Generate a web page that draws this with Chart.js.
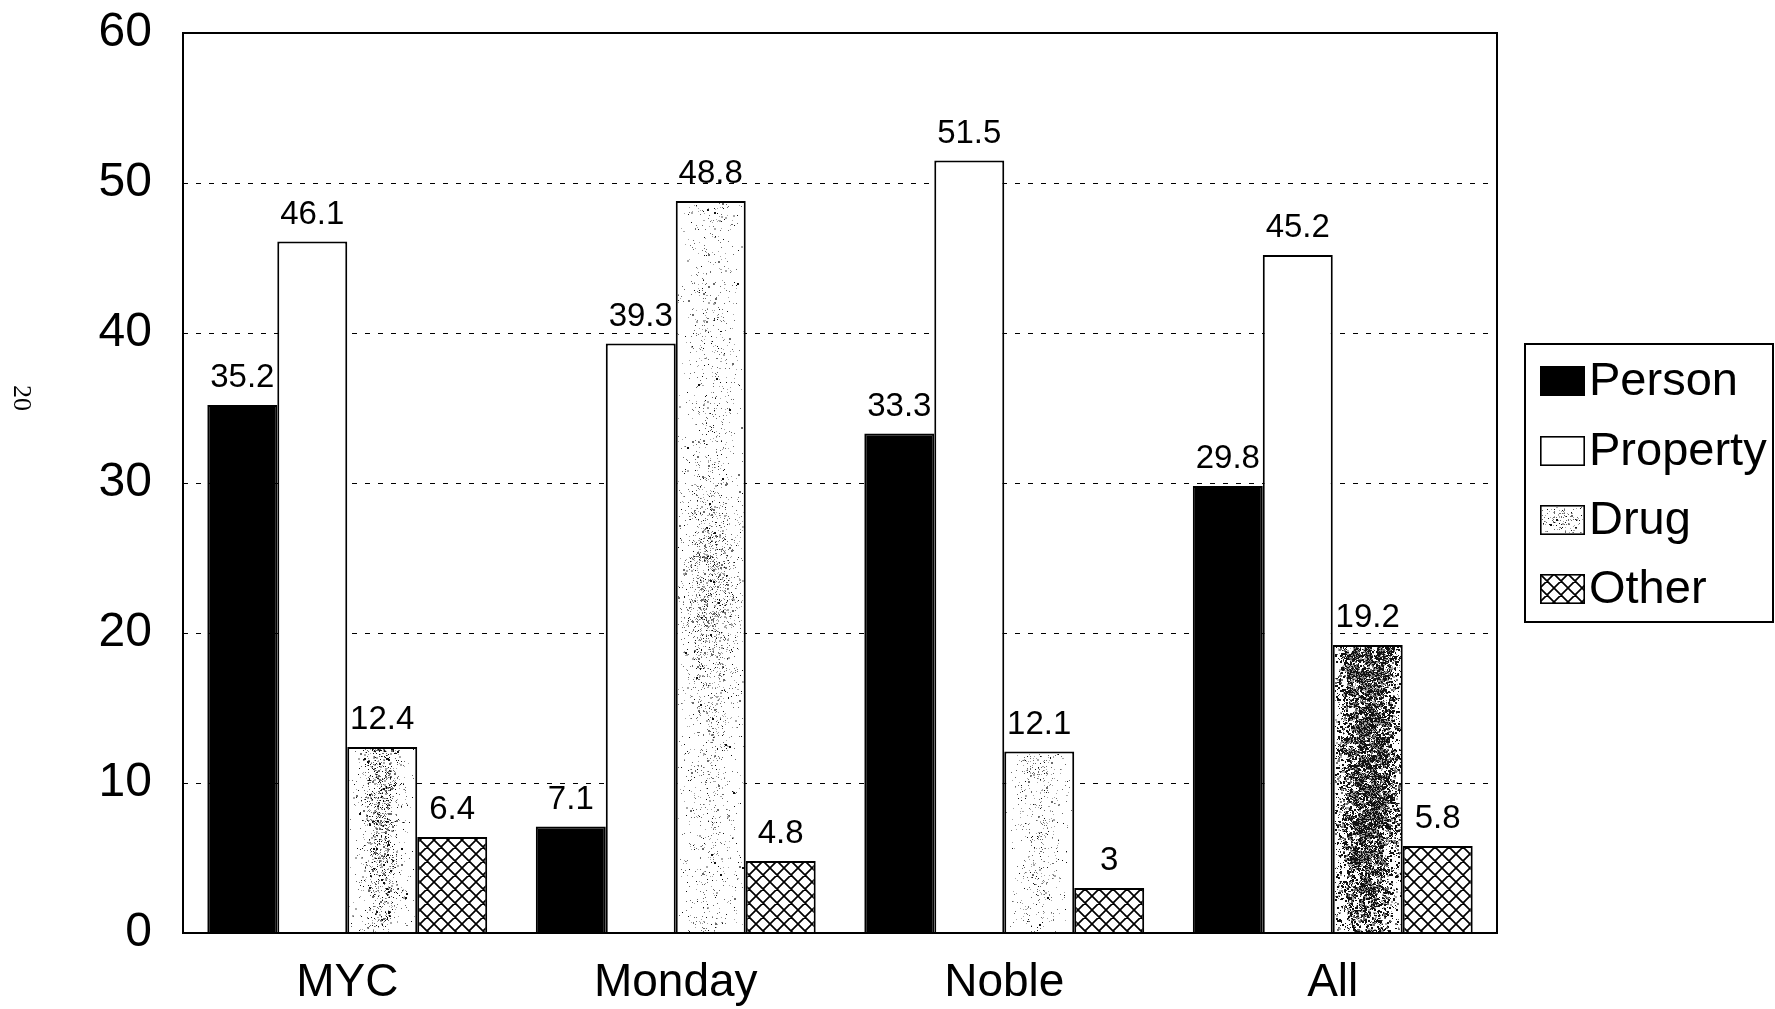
<!DOCTYPE html>
<html>
<head>
<meta charset="utf-8">
<title>Offense type by court</title>
<script src="https://cdn.jsdelivr.net/npm/chart.js@4.4.1/dist/chart.umd.min.js"></script>
<style>
  html, body { margin: 0; padding: 0; background: #fff; }
  canvas { display: block; }
</style>
</head>
<body>
<canvas id="chart" width="1775" height="1009"></canvas>
<script>
// ---- data ----
const categories = ['MYC', 'Monday', 'Noble', 'All'];
const seriesNames = ['Person', 'Property', 'Drug', 'Other'];
const personValues = [35.2, 7.1, 33.3, 29.8];
const propertyValues = [46.1, 39.3, 51.5, 45.2];
const drugValues = [12.4, 48.8, 12.1, 19.2];
const otherValues = [6.4, 4.8, 3, 5.8];
const yTickValues = [0, 10, 20, 30, 40, 50, 60];
const pageNumber = '20';

// ---- styling ----
const FONT = "'Liberation Sans', Arial, Helvetica, sans-serif";
Chart.defaults.font.family = FONT;
Chart.defaults.color = '#000';

const canvas = document.getElementById('chart');
const ctx = canvas.getContext('2d');

// small deterministic generator used for the stipple texture of the Drug bars
function mulberry32(a) {
  return function () {
    a |= 0; a = a + 0x6D2B79F5 | 0;
    let t = Math.imul(a ^ a >>> 15, 1 | a);
    t = t + Math.imul(t ^ t >>> 7, 61 | t) ^ t;
    return ((t ^ t >>> 14) >>> 0) / 4294967296;
  };
}

// cross-hatch fill for "Other"
function makeHatch() {
  const s = 14;
  const c = document.createElement('canvas');
  c.width = s; c.height = s;
  const g = c.getContext('2d');
  g.fillStyle = '#fff';
  g.fillRect(0, 0, s, s);
  g.strokeStyle = '#000';
  g.lineWidth = 1.7;
  g.beginPath();
  for (const k of [-s, 0, s]) {
    g.moveTo(k, 0); g.lineTo(k + s, s);
    g.moveTo(k + s, 0); g.lineTo(k, s);
  }
  g.stroke();
  return ctx.createPattern(c, 'repeat');
}
const hatch = makeHatch();

// stipple look of each Drug bar: strength, horizontal spread, dark share, vertical profile
const drugTexture = [
  { strength: 0.6, sigma: 0.19, seed: 11, big: 0.12, dark: 0.3, profile: f => 1 - 0.5 * f },
  { strength: 0.42, sigma: 0.25, seed: 23, big: 0.06, dark: 0.14, profile: f => 0.25 + 0.85 * Math.exp(-((f - 0.53) * (f - 0.53)) / (2 * 0.09 * 0.09)) + 0.1 * f },
  { strength: 0.26, sigma: 0.22, seed: 37, big: 0.04, dark: 0.12, profile: f => 0.9 - 0.3 * f },
  { strength: 1.9, sigma: 0.25, seed: 53, big: 0.4, dark: 0.62, profile: f => (f < 0.6 ? 1 : 1 - 0.6 * (f - 0.6) / 0.4) }
];

function stipple(g, x0, y0, w, h, tex) {
  const rnd = mulberry32(tex.seed);
  const cell = 6;
  const cols = Math.ceil(w / cell) + 1, rows = Math.ceil(h / cell) + 1;
  const blot = [];
  for (let i = 0; i < cols * rows; i++) blot.push(0.25 + rnd() * 1.5);
  for (let y = 0; y < h; y++) {
    const vf = tex.profile(y / h);
    for (let x = 0; x < w; x++) {
      const fx = (x + 0.5) / w - 0.5;
      const hf = Math.exp(-(fx * fx) / (2 * tex.sigma * tex.sigma));
      const b = blot[Math.floor(y / cell) * cols + Math.floor(x / cell)];
      const p = tex.strength * hf * vf * b * 0.5;
      if (rnd() < p) {
        const t = rnd();
        g.fillStyle = t < tex.dark ? '#111' : (t < tex.dark + (1 - tex.dark) * 0.5 ? '#6a6a6a' : '#a8a8a8');
        const sz = rnd() < tex.big ? 2 : 1;
        g.fillRect(x0 + x, y0 + y, Math.min(sz, w - x), Math.min(sz, h - y));
      }
    }
  }
}

// dashed horizontal guides behind the bars
const guideLines = {
  id: 'guideLines',
  beforeDatasetsDraw(chart) {
    const { ctx: g, chartArea: a } = chart;
    const ys = chart.scales.y;
    g.save();
    g.strokeStyle = '#000';
    g.lineWidth = 1.2;
    g.setLineDash([5, 8]);
    for (const v of yTickValues) {
      if (v === ys.min || v === ys.max) continue;
      const py = Math.round(ys.getPixelForValue(v)) + 0.5;
      g.beginPath();
      g.moveTo(a.left, py);
      g.lineTo(a.right, py);
      g.stroke();
    }
    g.restore();
  }
};

// stipple texture, frame, and value labels on top of the bars
const barDecor = {
  id: 'barDecor',
  afterDatasetsDraw(chart) {
    const g = chart.ctx;
    const a = chart.chartArea;
    // Drug bar texture
    const drugMeta = chart.getDatasetMeta(2);
    drugMeta.data.forEach((el, i) => {
      const left = Math.round(el.x - el.width / 2) + 2;
      const right = Math.round(el.x + el.width / 2) - 2;
      const top = Math.round(el.y) + 2;
      const bottom = Math.round(el.base);
      stipple(g, left, top, right - left, bottom - top, drugTexture[i]);
    });
    // plot frame
    g.save();
    g.strokeStyle = '#000';
    g.lineWidth = 2;
    g.setLineDash([]);
    g.strokeRect(a.left, a.top, a.right - a.left, a.bottom - a.top);
    g.restore();
    // value labels
    g.save();
    g.font = '33px ' + FONT;
    g.fillStyle = '#000';
    g.textAlign = 'center';
    g.textBaseline = 'alphabetic';
    chart.data.datasets.forEach((ds, di) => {
      const meta = chart.getDatasetMeta(di);
      meta.data.forEach((el, i) => {
        g.fillText(String(ds.data[i]), el.x, el.y - 18);
      });
    });
    g.restore();
  }
};

// boxed legend at the right and the page number at the left edge
const sideItems = {
  id: 'sideItems',
  afterDraw(chart) {
    const g = chart.ctx;
    g.save();
    g.strokeStyle = '#000';
    g.lineWidth = 2;
    g.strokeRect(1525, 344, 248, 278);
    const rowsY = [381, 451, 520, 589];
    const sw = 45, sh = 30, sx = 1540;
    chart.data.datasets.forEach((ds, i) => {
      const cy = rowsY[i];
      const top = cy - sh / 2;
      if (i === 0) {
        g.fillStyle = '#000';
        g.fillRect(sx, top, sw, sh);
      } else if (i === 2) {
        g.fillStyle = '#fff';
        g.fillRect(sx, top, sw, sh);
        stipple(g, sx + 2, top + 2, sw - 4, sh - 4, { strength: 0.35, sigma: 0.35, seed: 71, big: 0.04, dark: 0.15, profile: () => 1 });
      } else if (i === 3) {
        g.fillStyle = hatch;
        g.fillRect(sx, top, sw, sh);
      } else {
        g.fillStyle = '#fff';
        g.fillRect(sx, top, sw, sh);
      }
      g.lineWidth = 1.6;
      g.strokeStyle = '#000';
      g.strokeRect(sx + 0.8, top + 0.8, sw - 1.6, sh - 1.6);
      g.fillStyle = '#000';
      g.font = '47px ' + FONT;
      g.textAlign = 'left';
      g.textBaseline = 'middle';
      g.fillText(ds.label, 1589, cy + 1);
    });
    // page number
    g.translate(21, 398);
    g.rotate(Math.PI / 2);
    g.font = "26px 'Liberation Serif', 'Times New Roman', serif";
    g.textAlign = 'center';
    g.textBaseline = 'middle';
    g.fillText(pageNumber, 0, 0);
    g.restore();
  }
};

const fills = ['#000', '#fff', '#fff', hatch];
const seriesValues = [personValues, propertyValues, drugValues, otherValues];

new Chart(ctx, {
  type: 'bar',
  data: {
    labels: categories,
    datasets: seriesNames.map((name, i) => ({
      label: name,
      data: seriesValues[i],
      backgroundColor: fills[i],
      borderColor: '#000',
      borderWidth: 2,
      borderSkipped: 'start',
      categoryPercentage: 0.852,
      barPercentage: 1.0
    }))
  },
  options: {
    responsive: false,
    animation: false,
    devicePixelRatio: 1,
    layout: { padding: { left: 0, top: 33, right: 278, bottom: 0 } },
    plugins: {
      legend: { display: false },
      tooltip: { enabled: false }
    },
    scales: {
      x: {
        grid: { display: false, drawTicks: false },
        border: { display: false },
        ticks: { font: { size: 46 }, color: '#000', padding: 23, maxRotation: 0 },
        afterFit(scale) { scale.height = 76; }
      },
      y: {
        min: 0,
        max: 60,
        grid: { display: false, drawTicks: false },
        border: { display: false },
        ticks: { font: { size: 48 }, color: '#000', padding: 31 },
        afterBuildTicks(scale) { scale.ticks = yTickValues.map(v => ({ value: v })); },
        afterFit(scale) {
          scale.width = 183;
          scale.paddingTop = 0;
          scale.paddingBottom = 0;
        }
      }
    }
  },
  plugins: [guideLines, barDecor, sideItems]
});
</script>
</body>
</html>
